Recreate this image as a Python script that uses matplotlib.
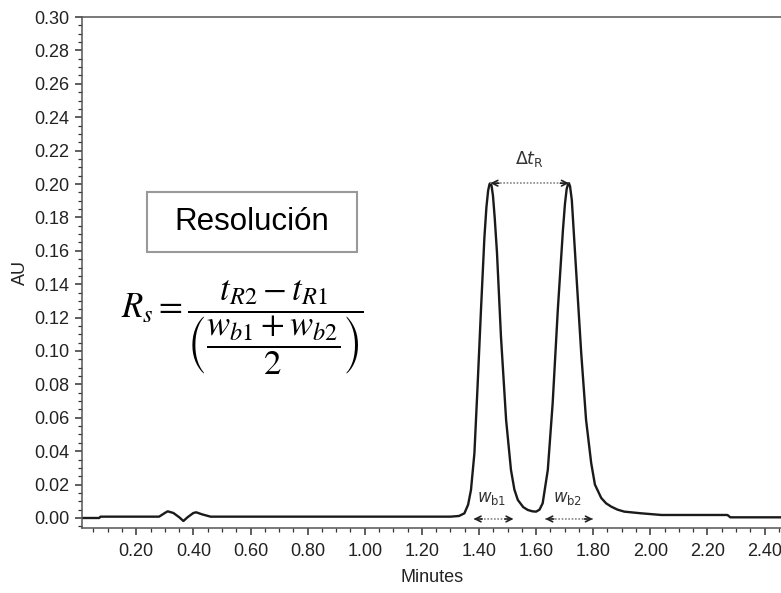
import matplotlib.pyplot as plt
from matplotlib.patches import Rectangle
from matplotlib.ticker import MultipleLocator, FormatStrFormatter

plt.rcParams['font.family'] = ['Liberation Sans', 'DejaVu Sans']

# chromatogram trace (minutes, AU)
minutes = [0.01, 0.07, 0.075, 0.28, 0.30, 0.31, 0.33, 0.35, 0.365, 0.38, 0.40,
           0.41, 0.43, 0.46, 1.30, 1.33, 1.349, 1.362, 1.372, 1.384, 1.395,
           1.407, 1.419, 1.426, 1.432, 1.437, 1.440, 1.444, 1.449, 1.455,
           1.463, 1.477, 1.495, 1.512, 1.524, 1.536, 1.555, 1.571, 1.587,
           1.600, 1.612, 1.623, 1.641, 1.658, 1.676, 1.694, 1.701, 1.707,
           1.712, 1.715, 1.719, 1.725, 1.740, 1.758, 1.775, 1.793, 1.806,
           1.828, 1.845, 1.863, 1.885, 1.909, 1.968, 2.039, 2.270, 2.280, 2.47]
au = [0.0, 0.0, 0.0008, 0.0008, 0.0030, 0.0040, 0.0030, 0.0005, -0.0018,
      0.0005, 0.0030, 0.0034, 0.0022, 0.0008, 0.0008, 0.0012, 0.0028,
      0.0080, 0.0168, 0.0388, 0.0787, 0.1246, 0.1680, 0.1860, 0.1960,
      0.2000, 0.2005, 0.1990, 0.1930, 0.1800, 0.1590, 0.1086, 0.0587,
      0.0288, 0.0170, 0.0108, 0.0065, 0.0048, 0.0040, 0.0038, 0.0050,
      0.0088, 0.0288, 0.0687, 0.1246, 0.1725, 0.1880, 0.1970, 0.2000,
      0.2005, 0.1985, 0.1905, 0.1486, 0.0987, 0.0587, 0.0328, 0.0200,
      0.0120, 0.0088, 0.0068, 0.0050, 0.0038, 0.0028, 0.0018, 0.0018,
      0.0004, 0.0004]

peak_times = [1.440, 1.715]
peak_height = 0.2005
wb1 = [1.381, 1.521]
wb2 = [1.632, 1.799]

fig = plt.figure(figsize=(7.81, 5.93), dpi=100)
ax = fig.add_axes([0.105, 0.1096, 0.897, 0.8617])

ax.plot(minutes, au, color='#1a1a1a', linewidth=1.7)

ax.xaxis.set_major_locator(MultipleLocator(0.2))
ax.xaxis.set_minor_locator(MultipleLocator(0.05))
ax.yaxis.set_major_locator(MultipleLocator(0.02))
ax.yaxis.set_minor_locator(MultipleLocator(0.005))
ax.xaxis.set_major_formatter(FormatStrFormatter('%.2f'))
ax.yaxis.set_major_formatter(FormatStrFormatter('%.2f'))
ax.set_xlim(0.01, 2.463)
ax.set_ylim(-0.006, 0.30)
ax.tick_params(which='major', direction='out', length=5, width=1.1,
               color='#333333', labelsize=13, labelcolor='#222222', pad=4)
ax.tick_params(axis='x', which='major', pad=6)
ax.tick_params(which='minor', direction='out', length=3, width=0.9, color='#333333')
ax.tick_params(top=False, right=False)
for side in ['left', 'bottom', 'top']:
    ax.spines[side].set_color('#555555')
    ax.spines[side].set_linewidth(1.1)
ax.spines['right'].set_visible(False)

ax.set_xlabel('Minutes', fontsize=13, color='#222222', labelpad=6)
ax.set_ylabel('AU', fontsize=13, color='#222222', labelpad=4)

# retention time difference arrow
ax.plot(peak_times, [peak_height, peak_height], color='#888888', linestyle=(0, (1, 1)), linewidth=1.2)
ax.annotate('', xy=(peak_times[0], peak_height), xytext=(peak_times[0] + 0.03, peak_height),
            arrowprops=dict(arrowstyle='->', color='#222222', lw=1.2, shrinkA=0, shrinkB=0))
ax.annotate('', xy=(peak_times[1], peak_height), xytext=(peak_times[1] - 0.03, peak_height),
            arrowprops=dict(arrowstyle='->', color='#222222', lw=1.2, shrinkA=0, shrinkB=0))
ax.text(sum(peak_times) / 2, 0.2150, r'$\Delta t_{\mathrm{R}}$', fontsize=12.5,
        ha='center', va='center', color='#333333', math_fontfamily='dejavusans')

# base width arrows
for w, lab in [(wb1, r'$w_{\mathrm{b1}}$'), (wb2, r'$w_{\mathrm{b2}}$')]:
    y = -0.0006
    ax.plot(w, [y, y], color='#888888', linestyle=(0, (1, 1)), linewidth=1.2)
    ax.annotate('', xy=(w[0], y), xytext=(w[0] + 0.03, y),
                arrowprops=dict(arrowstyle='->', color='#222222', lw=1.2, shrinkA=0, shrinkB=0))
    ax.annotate('', xy=(w[1], y), xytext=(w[1] - 0.03, y),
                arrowprops=dict(arrowstyle='->', color='#222222', lw=1.2, shrinkA=0, shrinkB=0))
    ax.text(sum(w) / 2 - 0.005, 0.0115, lab, fontsize=12, ha='center', va='center',
            color='#333333', math_fontfamily='dejavusans')

# title box and formula
ax.add_patch(Rectangle((0.2375, 0.1595), 0.7365, 0.036, fill=False,
                       edgecolor='#999999', linewidth=1.5))
ax.text(0.606, 0.1775, 'Resolución', fontsize=22.5, ha='center', va='center', color='black')
ax.text(0.571, 0.1138, r'$R_s = \dfrac{t_{R2} - t_{R1}}{\left(\dfrac{w_{b1} + w_{b2}}{2}\right)}$',
        fontsize=25, ha='center', va='center', color='black', math_fontfamily='stix')

fig.savefig('out.png', dpi=100, facecolor='white')
